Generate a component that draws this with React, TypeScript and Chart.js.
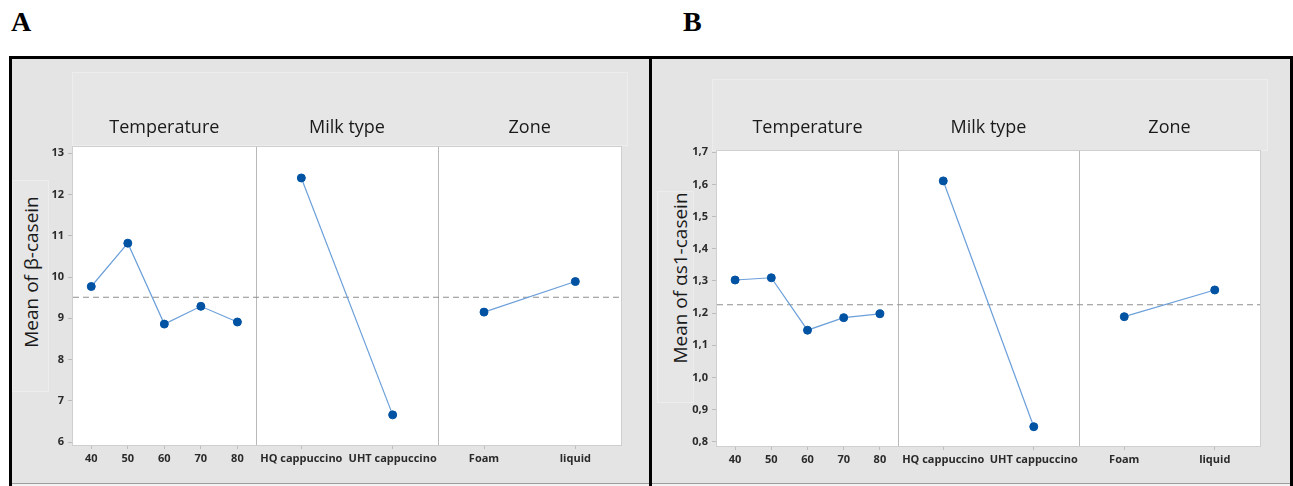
import React, { useEffect, useRef } from "react";
import { Chart, registerables } from "chart.js";

Chart.register(...registerables);

// ---- data ----
const factorTitles = ["Temperature", "Milk type", "Zone"];
const temperatureLabels = ["40", "50", "60", "70", "80"];
const milkLabels = ["HQ cappuccino", "UHT cappuccino"];
const zoneLabels = ["Foam", "liquid"];

const betaTemperature = [9.77, 10.82, 8.86, 9.29, 8.91];
const betaMilk = [12.4, 6.66];
const betaZone = [9.15, 9.89];
const betaMean = 9.51;
const betaTicks = [6, 7, 8, 9, 10, 11, 12, 13];
const betaRange = [5.93, 13.15];

const alphaTemperature = [1.303, 1.31, 1.147, 1.186, 1.198];
const alphaMilk = [1.611, 0.847];
const alphaZone = [1.189, 1.272];
const alphaMean = 1.226;
const alphaTicks = [0.8, 0.9, 1.0, 1.1, 1.2, 1.3, 1.4, 1.5, 1.6, 1.7];
const alphaRange = [0.787, 1.704];

const FONT = '"Open Sans", "Noto Sans", sans-serif';
const POINT = "#0052a3";
const LINE = "#6b9fd9";

const decorPlugin = {
  id: "decor",
  beforeDraw(chart: any) {
    const { ctx, chartArea: a } = chart;
    ctx.save();
    ctx.fillStyle = "#ffffff";
    ctx.fillRect(a.left, a.top, a.right - a.left, a.bottom - a.top);
    ctx.restore();
  },
  beforeDatasetsDraw(chart: any, _args: any, opts: any) {
    const { ctx, chartArea: a, scales } = chart;
    ctx.save();
    ctx.strokeStyle = "#b9b9b9";
    ctx.lineWidth = 1;
    ["x0", "x1"].forEach((id) => {
      const s = scales[id];
      const x = Math.round(s.right) + 0.5;
      ctx.beginPath();
      ctx.moveTo(x, a.top);
      ctx.lineTo(x, a.bottom);
      ctx.stroke();
    });
    ctx.strokeStyle = "#cfcfcf";
    ctx.strokeRect(
      Math.round(a.left) - 0.5,
      Math.round(a.top) - 0.5,
      Math.round(a.right - a.left) + 1,
      Math.round(a.bottom - a.top) + 1
    );
    const y = scales.y.getPixelForValue(opts.mean);
    ctx.strokeStyle = "#8f8f8f";
    ctx.lineWidth = 1.2;
    ctx.setLineDash([6, 4]);
    ctx.beginPath();
    ctx.moveTo(a.left, y);
    ctx.lineTo(a.right, y);
    ctx.stroke();
    ctx.restore();
  },
  afterDraw(chart: any, _args: any, opts: any) {
    const { ctx, scales } = chart;
    ctx.save();
    ctx.fillStyle = "#1a1a1a";
    ctx.font = `18px ${FONT}`;
    ctx.textAlign = "center";
    ctx.textBaseline = "alphabetic";
    ["x0", "x1", "x2"].forEach((id, i) => {
      const s = scales[id];
      ctx.fillText(factorTitles[i], (s.left + s.right) / 2, opts.headerBaseline);
    });
    ctx.restore();
  },
};

function xScale(labels: string[]) {
  return {
    type: "category",
    labels,
    position: "bottom",
    stack: "factors",
    stackWeight: 1,
    offset: true,
    grid: {
      display: true,
      drawOnChartArea: false,
      drawTicks: true,
      tickLength: 4,
      color: "#bdbdbd",
      offset: false,
    },
    border: { display: false },
    ticks: {
      color: "#2a2a2a",
      padding: 3,
      maxRotation: 0,
      autoSkip: false,
      font: { family: FONT, size: 11, weight: "bold" },
    },
    afterFit: (s: any) => {
      s.height = 30;
      s.paddingLeft = 0;
      s.paddingRight = 0;
      s.paddingTop = 0;
      s.paddingBottom = 0;
    },
  };
}

function line(data: number[], axis: string) {
  return {
    data,
    xAxisID: axis,
    yAxisID: "y",
    borderColor: LINE,
    borderWidth: 1.2,
    pointRadius: 4,
    pointBackgroundColor: POINT,
    pointBorderColor: POINT,
    pointBorderWidth: 1,
    tension: 0,
    fill: false,
  };
}

function makeConfig(
  temp: number[],
  milk: number[],
  zone: number[],
  mean: number,
  ticks: number[],
  range: number[],
  fmt: (v: number) => string,
  padding: any
): any {
  return {
    type: "line",
    data: {
      datasets: [line(temp, "x0"), line(milk, "x1"), line(zone, "x2")],
    },
    options: {
      animation: false,
      responsive: false,
      maintainAspectRatio: false,
      layout: { padding },
      plugins: {
        legend: { display: false },
        tooltip: { enabled: false },
        decor: { mean, headerBaseline: 73 },
      },
      scales: {
        x0: xScale(temperatureLabels),
        x1: xScale(milkLabels),
        x2: xScale(zoneLabels),
        y: {
          type: "linear",
          position: "left",
          min: range[0],
          max: range[1],
          afterBuildTicks: (s: any) => {
            s.ticks = ticks.map((v) => ({ value: v }));
          },
          afterFit: (s: any) => {
            s.width = 30;
            s.paddingTop = 0;
            s.paddingBottom = 0;
            s.paddingLeft = 0;
            s.paddingRight = 0;
          },
          grid: {
            display: true,
            drawOnChartArea: false,
            drawTicks: true,
            tickLength: 5,
            color: "#bdbdbd",
          },
          border: { display: false },
          ticks: {
            color: "#2a2a2a",
            padding: 4,
            font: { family: FONT, size: 11, weight: "bold" },
            callback: (v: any) => fmt(Number(v)),
          },
        },
      },
    },
    plugins: [decorPlugin],
  };
}

function ChartCanvas({ config, style, width, height }: any) {
  const ref = useRef<HTMLCanvasElement>(null);
  useEffect(() => {
    if (!ref.current) return;
    const chart = new Chart(ref.current, config);
    return () => chart.destroy();
  }, []);
  return (
    <canvas
      ref={ref}
      width={width}
      height={height}
      style={{ position: "absolute", width, height, ...style }}
    />
  );
}

const abs = (s: any) => ({ position: "absolute", boxSizing: "border-box", ...s } as any);

function YTitle({ text, cx, cy }: { text: string; cx: number; cy: number }) {
  return (
    <div
      style={abs({
        left: cx,
        top: cy,
        transform: "translate(-50%, -50%) rotate(-90deg)",
        whiteSpace: "nowrap",
        fontFamily: FONT,
        fontSize: 19,
        lineHeight: "19px",
        color: "#1a1a1a",
      })}
    >
      {text}
    </div>
  );
}

export default function App() {
  const configA = makeConfig(
    betaTemperature,
    betaMilk,
    betaZone,
    betaMean,
    betaTicks,
    betaRange,
    (v) => String(Math.round(v)),
    { left: 30, top: 87, right: 27, bottom: 8 }
  );
  const configB = makeConfig(
    alphaTemperature,
    alphaMilk,
    alphaZone,
    alphaMean,
    alphaTicks,
    alphaRange,
    (v) => v.toFixed(1).replace(".", ","),
    { left: 35, top: 91, right: 29, bottom: 7 }
  );

  const panelBg = "#e4e4e4";
  const boxBg = "#e6e6e6";
  const boxBorder = "1px solid #ededed";
  const letter = {
    top: 8,
    fontFamily: '"Liberation Serif", serif',
    fontWeight: "bold",
    fontSize: 28,
    lineHeight: "28px",
    color: "#000",
  };

  return (
    <div
      style={abs({
        left: 0,
        top: 0,
        width: 1293,
        height: 486,
        overflow: "hidden",
        background: "#ffffff",
      })}
    >
      <div style={abs({ left: 11, ...letter })}>A</div>
      <div style={abs({ left: 683, ...letter })}>B</div>

      <div
        style={abs({
          left: 9,
          top: 56,
          width: 643,
          height: 460,
          border: "3px solid #000",
          background: panelBg,
        })}
      />
      <div
        style={abs({
          left: 649,
          top: 56,
          width: 644,
          height: 460,
          border: "3px solid #000",
          background: panelBg,
        })}
      />
      <div style={abs({ left: 12, top: 483, width: 637, height: 1, background: "#9c9c9c" })} />
      <div style={abs({ left: 652, top: 483, width: 638, height: 1, background: "#9c9c9c" })} />
      <div style={abs({ left: 12, top: 484, width: 637, height: 3, background: "#f2f2f2" })} />
      <div style={abs({ left: 652, top: 484, width: 638, height: 3, background: "#f2f2f2" })} />

      <div style={abs({ left: 72, top: 72, width: 556, height: 74, background: boxBg, border: boxBorder })} />
      <div style={abs({ left: 712, top: 79, width: 556, height: 72, background: boxBg, border: boxBorder })} />

      <div style={abs({ left: 12, top: 180, width: 37, height: 212, background: boxBg, border: boxBorder })} />
      <div style={abs({ left: 657, top: 191, width: 37, height: 212, background: boxBg, border: boxBorder })} />
      <YTitle text="Mean of β-casein" cx={31} cy={271.5} />
      <YTitle text="Mean of αs1-casein" cx={680} cy={277.5} />

      <ChartCanvas config={configA} width={635} height={423} style={{ left: 13, top: 60 }} />
      <ChartCanvas config={configB} width={637} height={423} style={{ left: 652, top: 60 }} />
    </div>
  );
}
